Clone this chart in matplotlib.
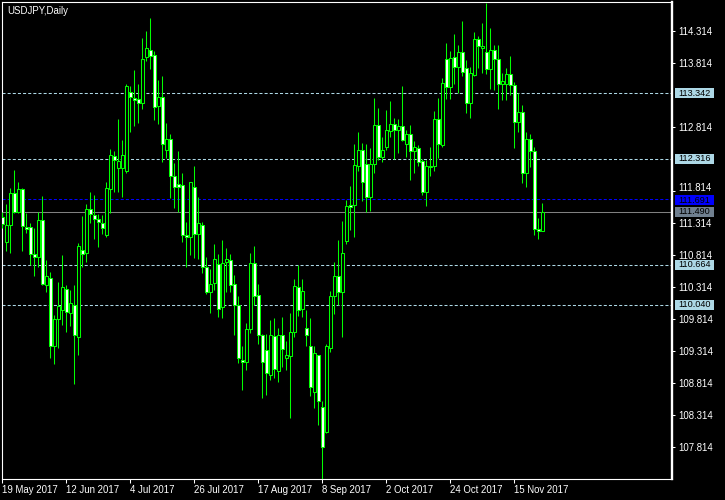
import matplotlib
matplotlib.use("Agg")
import matplotlib.pyplot as plt
from matplotlib.patches import Rectangle
from matplotlib.transforms import blended_transform_factory

plt.rcParams['lines.scale_dashes'] = False

# ---- data (USDJPY daily, 19 May 2017 .. 24 Nov 2017) ----
opens = [111.40, 111.02, 111.29, 111.78, 111.49, 111.84, 111.25, 111.25, 110.83, 110.78,
         111.36, 110.35, 110.45, 109.40, 109.81, 109.95, 110.28, 109.91, 110.03, 109.54,
         110.90, 110.84, 111.53, 111.44, 111.37, 111.31, 111.12, 111.84, 112.36, 112.17,
         112.17, 112.12, 113.36, 113.26, 113.25, 113.18, 113.91, 114.02, 113.93, 113.14,
         113.28, 112.46, 112.62, 112.05, 111.92, 111.91, 111.13, 111.09, 111.87, 111.15,
         111.28, 110.62, 110.24, 110.38, 110.67, 110.01, 110.71, 110.73, 110.36, 110.03,
         109.18, 109.14, 109.66, 110.69, 110.19, 109.57, 109.33, 108.95, 109.55, 109.01,
         109.57, 109.21, 109.24, 109.62, 110.32, 109.98, 109.67, 109.39, 108.68, 109.26,
         108.44, 108.05, 109.37, 110.17, 110.49, 110.23, 111.04, 111.60, 111.59, 112.20,
         112.46, 112.24, 111.72, 112.24, 112.84, 112.34, 112.50, 112.75, 112.86, 112.77,
         112.83, 112.55, 112.70, 112.44, 112.48, 112.28, 111.79, 112.19, 112.20, 112.93,
         112.53, 113.88, 113.44, 113.90, 113.75, 113.98, 113.73, 113.18, 113.62, 114.19,
         114.05, 113.98, 113.71, 114.01, 113.88, 113.48, 113.49, 113.64, 113.46, 112.89,
         113.04, 112.10, 112.62, 112.43, 111.22, 111.19]
highs = [111.49, 111.61, 111.86, 112.14, 111.95, 111.86, 111.47, 111.31, 111.23, 111.49,
         111.73, 110.74, 110.55, 109.88, 110.40, 110.82, 110.35, 110.27, 110.35, 111.00,
         111.42, 111.61, 111.79, 111.75, 111.45, 111.44, 111.95, 112.47, 112.43, 112.93,
         112.61, 113.48, 113.45, 113.70, 113.48, 114.20, 114.31, 114.52, 113.99, 113.55,
         113.60, 112.88, 112.70, 112.25, 112.43, 112.09, 111.33, 111.96, 112.20, 111.72,
         111.33, 110.78, 110.60, 110.99, 110.83, 111.05, 110.92, 110.83, 110.50, 110.17,
         109.39, 109.75, 110.84, 110.95, 110.37, 109.59, 109.59, 109.80, 109.83, 109.67,
         109.85, 109.47, 109.91, 110.44, 110.66, 110.44, 109.95, 109.83, 109.39, 109.26,
         108.54, 109.43, 110.25, 110.71, 111.05, 111.34, 111.67, 111.89, 112.55, 112.73,
         112.56, 112.55, 112.48, 113.27, 113.11, 112.65, 113.08, 113.22, 112.96, 112.94,
         113.45, 112.76, 112.84, 112.59, 112.53, 112.32, 112.30, 112.50, 113.06, 113.26,
         113.57, 114.13, 114.00, 114.26, 114.09, 114.46, 113.86, 113.75, 114.29, 114.23,
         114.44, 114.74, 114.35, 114.09, 114.09, 113.65, 113.73, 113.92, 113.51, 113.34,
         113.15, 112.73, 112.71, 112.50, 111.39, 111.62]
lows = [111.23, 110.87, 110.85, 111.47, 111.47, 110.87, 111.16, 110.66, 110.48, 110.63,
        110.35, 110.23, 109.21, 109.11, 109.37, 109.73, 109.62, 109.70, 108.80, 109.26,
        110.63, 110.71, 111.31, 111.06, 110.94, 111.15, 111.10, 111.47, 111.79, 111.80,
        111.72, 112.10, 112.74, 112.82, 112.88, 113.09, 113.84, 113.71, 112.92, 112.86,
        112.26, 112.33, 111.70, 111.55, 111.48, 111.01, 110.62, 110.82, 110.77, 110.76,
        110.54, 110.21, 109.91, 110.27, 109.85, 109.83, 110.24, 110.24, 109.57, 109.13,
        108.71, 109.02, 109.60, 110.03, 109.43, 108.59, 108.63, 108.87, 108.89, 108.84,
        109.07, 109.02, 108.27, 109.53, 109.86, 109.85, 109.40, 108.61, 108.42, 108.17,
        107.30, 108.04, 109.30, 109.89, 110.03, 109.54, 110.99, 111.20, 111.10, 112.13,
        111.65, 111.48, 111.50, 112.10, 112.29, 112.26, 112.45, 112.65, 112.31, 112.41,
        112.60, 112.35, 111.99, 112.09, 112.20, 111.75, 111.58, 112.04, 112.12, 112.33,
        112.50, 113.25, 113.25, 113.49, 113.35, 113.61, 113.03, 112.96, 113.61, 113.73,
        113.65, 113.64, 113.40, 113.39, 113.10, 113.23, 113.23, 113.31, 112.48, 112.74,
        111.94, 111.88, 112.19, 111.13, 111.07, 111.19]
closes = [111.30, 111.29, 111.78, 111.49, 111.84, 111.27, 111.22, 110.83, 110.78, 111.36,
          110.36, 110.49, 109.40, 109.81, 110.02, 110.32, 109.93, 110.06, 109.56, 110.96,
          110.83, 111.53, 111.45, 111.37, 111.33, 111.23, 111.86, 112.37, 112.30, 112.28,
          112.37, 113.45, 113.28, 113.23, 113.19, 113.87, 114.04, 113.92, 113.13, 113.28,
          112.54, 112.62, 112.04, 111.88, 111.88, 111.12, 111.10, 111.95, 111.14, 111.31,
          110.63, 110.23, 110.37, 110.75, 109.98, 110.69, 110.75, 110.34, 110.03, 109.21,
          109.15, 109.66, 110.69, 110.18, 109.57, 109.14, 108.98, 109.57, 109.03, 109.57,
          109.35, 109.26, 109.62, 110.33, 109.96, 110.25, 109.57, 108.76, 109.28, 108.53,
          107.82, 109.40, 110.18, 110.49, 110.23, 110.84, 111.58, 111.57, 112.22, 112.46,
          111.96, 111.72, 112.24, 112.84, 112.34, 112.45, 112.76, 112.86, 112.76, 112.83,
          112.61, 112.70, 112.44, 112.50, 112.27, 111.80, 112.20, 112.21, 112.93, 112.54,
          113.50, 113.44, 113.89, 113.75, 113.98, 113.67, 113.18, 113.65, 114.19, 114.08,
          114.08, 113.71, 114.01, 113.88, 113.48, 113.53, 113.64, 113.47, 112.89, 113.05,
          112.09, 112.62, 112.43, 111.22, 111.19, 111.49]

date_labels = ["19 May 2017", "12 Jun 2017", "4 Jul 2017", "26 Jul 2017", "17 Aug 2017",
               "8 Sep 2017", "2 Oct 2017", "24 Oct 2017", "15 Nov 2017"]
date_positions = [0, 16, 32, 48, 64, 80, 96, 112, 128]

price_ticks = [114.314, 113.814, 112.814, 111.814, 111.314, 110.814, 110.314,
               109.814, 109.314, 108.814, 108.314, 107.814]
crowded_tick = 111.814   # label nudged up, it sits right above the blue price box

level_lines = [113.342, 112.316, 110.664, 110.040]
blue_level = 111.691
current_price = 111.490

# ---- figure ----
W, H = 725, 500
fig = plt.figure(figsize=(W / 100, H / 100), dpi=100, facecolor='black')
ax = fig.add_axes([2 / W, 21 / H, 670 / W, 477 / H])
ax.set_facecolor('black')

FONT = 'Liberation Sans'
FS = 6.9
GREEN = '#00FF00'
PX_PER_UNIT = 64.1

ymin, ymax = 107.320, 114.762
ax.set_ylim(ymin, ymax)
ax.set_xlim(-0.075, 167.4)

# horizontal levels
for lv in level_lines:
    ax.axhline(lv, color='#ADD8E6', lw=0.75, linestyle=(0, (2.2, 1.5)), zorder=1)
ax.axhline(blue_level, color='#0000FF', lw=0.75, linestyle=(0, (2.2, 1.5)), zorder=1)
ax.axhline(current_price, color='#808080', lw=0.75, zorder=1)

# candles
for k, (o, h, l, c) in enumerate(zip(opens, highs, lows, closes)):
    ax.vlines(k, l, h, color=GREEN, lw=0.75, zorder=3)
    bottom = min(o, c)
    height = abs(c - o)
    fc = 'white' if c < o else 'black'
    ax.add_patch(Rectangle((k - 0.3, bottom), 0.6, height, facecolor=fc,
                           edgecolor=GREEN, lw=0.75, zorder=4))

# spines
for s in ['left', 'top', 'bottom']:
    ax.spines[s].set_color('white')
    ax.spines[s].set_linewidth(0.8)
ax.spines['right'].set_color('white')
ax.spines['right'].set_linewidth(1.7)

# y axis on the right
ax.yaxis.tick_right()
ax.set_yticks(price_ticks)
ax.set_yticklabels(["" if v == crowded_tick else f"{v:.3f}" for v in price_ticks],
                   fontsize=FS, color='white', family=FONT)
ax.tick_params(axis='y', colors='white', length=2.3, width=0.75, pad=2.0)

trans = blended_transform_factory(ax.transAxes, ax.transData)
ax.text(1 + 6 / 670, crowded_tick + 2.5 / PX_PER_UNIT, f"{crowded_tick:.3f}",
        transform=trans, fontsize=FS, family=FONT, color='white', va='center',
        ha='left', clip_on=False, zorder=5)

# x axis
ax.set_xticks(date_positions)
ax.set_xticklabels(date_labels, fontsize=FS, color='white', family=FONT, ha='left')
ax.tick_params(axis='x', colors='white', length=3.0, width=0.75, pad=1.0)
for lab in ax.get_xticklabels():
    lab.set_horizontalalignment('left')

# price boxes on the right axis
box_x0 = (675 - 2) / 670
box_w = 39 / 670
half_h = 5.0 / PX_PER_UNIT
boxes = [(113.342, '#ADD8E6', 0), (112.316, '#ADD8E6', 0), (blue_level, '#0000FF', -1.5),
         (current_price, '#708090', 0), (110.664, '#ADD8E6', 0), (110.040, '#ADD8E6', 0)]
for val, col, shift_px in boxes:
    yc = val + shift_px / PX_PER_UNIT
    ax.add_patch(Rectangle((box_x0, yc - half_h), box_w, 2 * half_h, transform=trans,
                           facecolor=col, edgecolor='none', clip_on=False, zorder=6))
    ax.text(box_x0 + 3 / 670, yc, f"{val:.3f}", transform=trans, fontsize=FS - 0.3,
            family=FONT, color='black', va='center', ha='left', clip_on=False, zorder=7)

# title
ax.text(5 / 670, 1 - 4 / 477, "USDJPY,Daily", transform=ax.transAxes, fontsize=FS,
        family=FONT, color='white', va='top', ha='left', zorder=8)

fig.savefig('out.png', dpi=100, facecolor='black')
